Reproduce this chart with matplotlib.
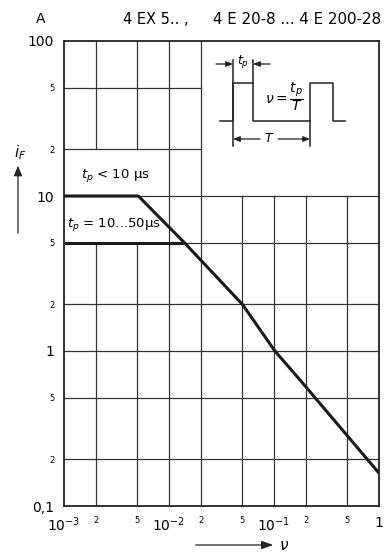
import matplotlib.pyplot as plt
from matplotlib.patches import FancyArrowPatch

# curve for t_p < 10 us (flat part, then the common slope)
nu_short = [1e-3, 5.1e-3, 1.4e-2, 5.0e-2, 1.02e-1, 1.77e-1, 1.0]
if_short = [10, 10, 5.0, 2.0, 1.0, 0.65, 0.163]
# curve for t_p = 10...50 us (flat until it meets the slope)
nu_long = [1e-3, 1.4e-2]
if_long = [5, 5]

x_ticks = [1e-3, 2e-3, 5e-3, 1e-2, 2e-2, 5e-2, 1e-1, 2e-1, 5e-1, 1]
x_labels = [r'$10^{-3}$', '2', '5', r'$10^{-2}$', '2', '5', r'$10^{-1}$', '2', '5', '1']
y_ticks = [0.1, 0.2, 0.5, 1, 2, 5, 10, 20, 50, 100]
y_labels = ['0,1', '2', '5', '1', '2', '5', '10', '2', '5', '100']
small = {'2', '5'}

# grid pieces: value, from, to
vgrid = [(2e-3, 0.1, 5), (2e-3, 20, 100), (5e-3, 0.1, 5), (5e-3, 20, 100),
         (1e-2, 0.1, 100), (2e-2, 0.1, 100), (5e-2, 0.1, 10), (1e-1, 0.1, 10),
         (2e-1, 0.1, 10), (5e-1, 0.1, 10)]
hgrid = [(0.2, 1e-3, 1), (0.5, 1e-3, 1), (1, 1e-3, 1), (2, 1e-3, 1), (5, 1e-3, 1),
         (10, 1e-3, 1), (20, 1e-3, 2e-2), (50, 1e-3, 2e-2)]

fig = plt.figure(figsize=(3.84, 5.53), dpi=100)
W, H = 384, 553
ax = fig.add_axes([64 / W, 1 - 506 / H, 315 / W, 465 / H])
ax.set_xscale('log')
ax.set_yscale('log')
ax.set_xlim(1e-3, 1)
ax.set_ylim(0.1, 100)

gc = '#333333'
for x, y0, y1 in vgrid:
    ax.plot([x, x], [y0, y1], color=gc, lw=0.9)
for y, x0, x1 in hgrid:
    ax.plot([x0, x1], [y, y], color=gc, lw=0.9)

ax.plot(nu_short, if_short, color='#1a1a1a', lw=2.2, solid_capstyle='butt')
ax.plot(nu_long, if_long, color='#1a1a1a', lw=2.2, solid_capstyle='butt')

ax.text(3.1e-3, 13.6, r'$t_p$ < 10 µs', ha='center', va='center', fontsize=9.5)
ax.text(3.0e-3, 6.5, r'$t_p$ = 10...50µs', ha='center', va='center', fontsize=9.5)

for s in ax.spines.values():
    s.set_linewidth(1.3)
    s.set_color('#222222')

ax.minorticks_off()
ax.set_xticks(x_ticks)
ax.set_xticklabels(x_labels)
ax.set_yticks(y_ticks)
ax.set_yticklabels(y_labels)
ax.tick_params(length=0, pad=7)
for t in ax.get_xticklabels():
    t.set_fontsize(6 if t.get_text() in small else 10)
for t in ax.get_yticklabels():
    t.set_fontsize(6 if t.get_text() in small else 10)

# overlay in pixel units for the annotations and the pulse sketch
ov = fig.add_axes([0, 0, 1, 1])
ov.set_xlim(0, W)
ov.set_ylim(H, 0)
ov.axis('off')
ov.patch.set_alpha(0)

lc = '#222222'
ov.text(41, 19, 'A', ha='center', va='center', fontsize=10)
ov.text(123, 19, '4 EX 5.. ,', ha='left', va='center', fontsize=10.5)
ov.text(381, 19, '4 E 20-8 ... 4 E 200-28', ha='right', va='center', fontsize=10.8)

# i_F label with upward arrow
ov.text(20, 153, r'$i_F$', ha='center', va='center', fontsize=11)
ov.add_patch(FancyArrowPatch((18, 236), (18, 163), arrowstyle='-|>,head_length=6,head_width=2.5',
                             color=lc, lw=0.9))
# nu label with right arrow
ov.add_patch(FancyArrowPatch((193, 545), (276, 545), arrowstyle='-|>,head_length=7,head_width=2.5',
                             color=lc, lw=0.9))
ov.text(284, 545, r'$\nu$', ha='center', va='center', fontsize=11)

# pulse sketch
px = [220, 233, 233, 253, 253, 310, 310, 333, 333, 345]
py = [121, 121, 83, 83, 121, 121, 83, 83, 121, 121]
ov.plot(px, py, color=lc, lw=1.1)
ov.plot([233, 233], [60, 146], color=lc, lw=1.1)
ov.plot([253, 253], [60, 83], color=lc, lw=1.1)
ov.plot([310, 310], [121, 146], color=lc, lw=1.1)
arr = '-|>,head_length=4,head_width=1.6'
ov.add_patch(FancyArrowPatch((216, 64), (233, 64), arrowstyle=arr, color=lc, lw=0.9,
                             shrinkA=0, shrinkB=0))
ov.add_patch(FancyArrowPatch((270, 64), (253, 64), arrowstyle=arr, color=lc, lw=0.9,
                             shrinkA=0, shrinkB=0))
ov.text(243, 62, r'$t_p$', ha='center', va='center', fontsize=9)
ov.add_patch(FancyArrowPatch((260, 139), (233, 139), arrowstyle=arr, color=lc, lw=0.9,
                             shrinkA=0, shrinkB=0))
ov.add_patch(FancyArrowPatch((278, 139), (310, 139), arrowstyle=arr, color=lc, lw=0.9,
                             shrinkA=0, shrinkB=0))
ov.text(269, 139, r'$T$', ha='center', va='center', fontsize=9)
ov.text(284, 97, r'$\nu = \dfrac{t_p}{T}$', ha='center', va='center', fontsize=10)

fig.savefig('out.png', dpi=100)
